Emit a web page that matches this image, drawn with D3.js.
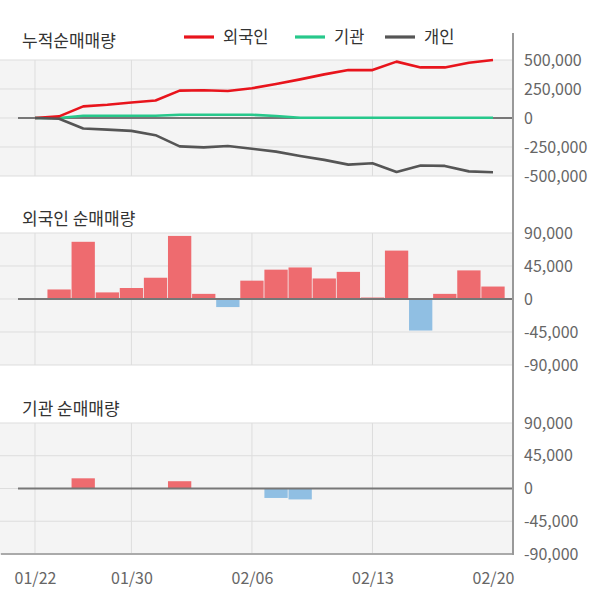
<!DOCTYPE html>
<html>
<head>
<meta charset="utf-8">
<script src="https://cdn.jsdelivr.net/npm/d3@7"></script>
<style>
  body { margin: 0; background: #fff; }
  svg text { font-family: "Noto Sans CJK KR", "Noto Sans", sans-serif; }
</style>
</head>
<body>
<div class="chart"></div>
<script>
// data
const dates = ["01/22", "01/23", "01/28", "01/29", "01/30", "01/31", "02/03", "02/04", "02/05", "02/06",
   "02/07", "02/10", "02/11", "02/12", "02/13", "02/14", "02/17", "02/18", "02/19", "02/20"];
const dateTicks = ["01/22", "01/30", "02/06", "02/13", "02/20"];
const foreignCum = [0, 14000, 100000, 114000, 134000, 151000, 236000, 239000, 233000, 256000,
   293000, 333000, 376000, 413000, 413000, 486000, 436000, 436000, 477000, 500000];
const instCum = [0, 0, 20000, 20000, 20000, 20000, 28000, 28000, 28000, 28000,
   17000, 2000, 2000, 2000, 2000, 2000, 2000, 2000, 2000, 2000];
const indivCum = [0, -6000, -91000, -100000, -111000, -148000, -245000, -253000, -242000, -265000,
   -290000, -327000, -361000, -402000, -390000, -465000, -410000, -413000, -460000, -468000];
const foreignDaily = [0, 13000, 78000, 9000, 15000, 29000, 86000, 7000, -11000, 25000,
   40000, 43000, 28000, 37000, 2000, 66000, -43000, 7000, 39000, 17000];
const instDaily = [0, 0, 14000, 0, 0, 0, 10000, 0, 0, 0,
   -13000, -15000, 0, 0, 0, 0, 0, 0, 0, 0];
const cumTicks = [500000, 250000, 0, -250000, -500000];
const dailyTicks = [90000, 45000, 0, -45000, -90000];
const seriesNames = ["외국인", "기관", "개인"];

const width = 600;
const height = 604;
const axisX = 513;
const colors = { "외국인": "#e8141c", "기관": "#27c88b", "개인": "#555555" };
const fmt = (v) => d3.format(",")(v).replace("\u2212", "-");

const svg = d3.select(".chart")
   .append("svg")
   .attr("width", width)
   .attr("height", height);

const x = d3.scalePoint().domain(dates).range([35, 493]);
const step = x.step();

// panel backgrounds + grids
function panel(top, bottom, ticks, title, titleY, bottomStyle) {
   const y = d3.scaleLinear().domain([ticks[ticks.length - 1], ticks[0]]).range([bottom, top]);
   svg.append("rect")
      .attr("x", 0).attr("y", top)
      .attr("width", axisX).attr("height", bottom - top)
      .attr("fill", "#f4f4f4");

   svg.append("g")
      .selectAll("line.h")
      .data(ticks)
      .join("line")
      .attr("x1", 0).attr("x2", axisX)
      .attr("y1", (d) => y(d)).attr("y2", (d) => y(d))
      .attr("stroke", "#dddddd")
      .attr("stroke-width", 1);

   svg.append("g")
      .selectAll("line.v")
      .data(dateTicks.slice(0, 4))
      .join("line")
      .attr("x1", (d) => x(d)).attr("x2", (d) => x(d))
      .attr("y1", top).attr("y2", bottom)
      .attr("stroke", "#dddddd")
      .attr("stroke-width", 1);

   if (bottomStyle) {
      svg.append("line")
         .attr("x1", 1).attr("x2", axisX)
         .attr("y1", bottom).attr("y2", bottom)
         .attr("stroke", "#aaaaaa")
         .attr("stroke-width", 2);
   }

   const yAxis = d3.axisRight(y).tickValues(ticks).tickSize(0).tickPadding(11).tickFormat(fmt);
   svg.append("g")
      .attr("transform", `translate(${axisX},0)`)
      .call(yAxis)
      .call((g) => g.select(".domain").remove())
      .call((g) => g.selectAll("text")
         .attr("fill", "#666")
         .style("font-size", "16px"));

   svg.append("text")
      .attr("x", 22)
      .attr("y", titleY)
      .attr("fill", "#333")
      .style("font-size", "17px")
      .text(title);

   return y;
}

const y1 = panel(60, 176, cumTicks, "누적순매매량", 47, false);
const y2 = panel(233, 365, dailyTicks, "외국인 순매매량", 225, false);
const y3 = panel(423, 554, dailyTicks, "기관 순매매량", 415, true);

// zero lines
function zeroLine(y) {
   svg.append("line")
      .attr("x1", 18).attr("x2", axisX)
      .attr("y1", y(0)).attr("y2", y(0))
      .attr("stroke", "#777777")
      .attr("stroke-width", 2);
}

// cumulative lines
zeroLine(y1);
const line = d3.line().x((d, i) => x(dates[i])).y((d) => y1(d));
[["기관", instCum], ["외국인", foreignCum], ["개인", indivCum]].forEach(([name, vals]) => {
   svg.append("path")
      .datum(vals)
      .attr("d", line)
      .attr("fill", "none")
      .attr("stroke", colors[name])
      .attr("stroke-width", 2.6)
      .attr("stroke-linejoin", "round");
});

// daily bars
function bars(vals, y) {
   const bw = step - 0.8;
   svg.append("g")
      .selectAll("rect")
      .data(vals.map((v, i) => ({ date: dates[i], v })).filter((d) => d.v !== 0))
      .join("rect")
      .attr("x", (d) => x(d.date) - bw / 2)
      .attr("width", bw)
      .attr("y", (d) => Math.min(y(d.v), y(0)))
      .attr("height", (d) => Math.abs(y(d.v) - y(0)))
      .attr("fill", (d) => (d.v > 0 ? "#ee6b6f" : "#90bfe3"));
   zeroLine(y);
}
bars(foreignDaily, y2);
bars(instDaily, y3);

// right axis line
svg.append("line")
   .attr("x1", axisX).attr("x2", axisX)
   .attr("y1", 33).attr("y2", 555)
   .attr("stroke", "#999999")
   .attr("stroke-width", 2);

// x axis labels
const xAxis = d3.axisBottom(x).tickValues(dateTicks).tickSize(0).tickPadding(0);
svg.append("g")
   .attr("transform", "translate(0,573)")
   .call(xAxis)
   .call((g) => g.select(".domain").remove())
   .call((g) => g.selectAll("text")
      .attr("fill", "#666")
      .style("font-size", "16px"));

// legend
const legendX = [184, 295, 385];
const legend = svg.append("g")
   .selectAll("g")
   .data(seriesNames)
   .join("g")
   .attr("transform", (d, i) => `translate(${legendX[i]},37)`);
legend.append("line")
   .attr("x1", 0).attr("x2", 30)
   .attr("stroke", (d) => colors[d])
   .attr("stroke-width", 3.2);
legend.append("text")
   .attr("x", 39)
   .attr("dy", "0.35em")
   .attr("fill", "#333")
   .style("font-size", "16.5px")
   .text((d) => d);
</script>
</body>
</html>
